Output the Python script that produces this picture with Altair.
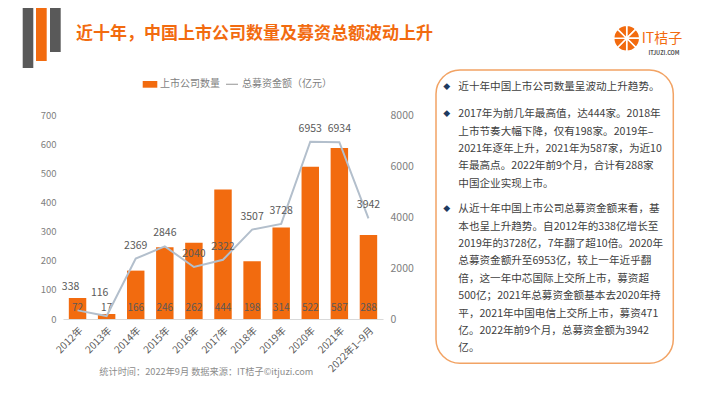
import altair as alt
import pandas as pd

# ---------------- data ----------------
years = ["2012年", "2013年", "2014年", "2015年", "2016年", "2017年",
         "2018年", "2019年", "2020年", "2021年", "2022年1–9月"]
companies = [72, 17, 166, 246, 262, 444, 198, 314, 522, 587, 288]
amounts = [338, 116, 2369, 2846, 2040, 2322, 3507, 3728, 6953, 6934, 3942]

left_ticks = [0, 100, 200, 300, 400, 500, 600, 700]
right_ticks = [0, 1000, 2000, 3000, 4000, 5000, 6000, 7000, 8000]

title_text = "近十年，中国上市公司数量及募资总额波动上升"
legend_bar = "上市公司数量"
legend_line = "总募资金额（亿元）"
footer_text = "统计时间：2022年9月  数据来源：IT桔子©itjuzi.com"
logo_text = "IT桔子"
logo_sub = "ITJUZI.COM"
logo_segments = [1, 1, 1, 1, 1, 1, 1, 1]

para1 = ["近十年中国上市公司数量呈波动上升趋势。"]
para2 = ["2017年为前几年最高值，达444家。2018年",
         "上市节奏大幅下降，仅有198家。2019年–",
         "2021年逐年上升，2021年为587家，为近10",
         "年最高点。2022年前9个月，合计有288家",
         "中国企业实现上市。"]
para3 = ["从近十年中国上市公司总募资金额来看，基",
         "本也呈上升趋势。自2012年的338亿增长至",
         "2019年的3728亿，7年翻了超10倍。2020年",
         "总募资金额升至6953亿，较上一年近乎翻",
         "倍，这一年中芯国际上交所上市，募资超",
         "500亿；2021年总募资金额基本去2020年持",
         "平，2021年中国电信上交所上市，募资471",
         "亿。2022年前9个月，总募资金额为3942",
         "亿。"]

df = pd.DataFrame({"year": years, "companies": companies, "amount": amounts})
one = pd.DataFrame({"k": [0]})

FONT = "Noto Sans CJK SC"
ORANGE = "#f26b0f"
LINE = "#b3bfcc"
GREY = "#595959"

x_enc = alt.X("year:N", sort=years,
              scale=alt.Scale(paddingInner=0.4, paddingOuter=0.2),
              axis=alt.Axis(title=None, labelAngle=-45, labelFontSize=10,
                            labelColor=GREY, labelFont=FONT, labelOverlap=False,
                            domainColor="#d9d9d9", ticks=False, labelPadding=6))

left_scale = alt.Scale(domain=[0, 700], nice=False)
left_axis = alt.Axis(title=None, values=left_ticks, domain=False, ticks=False,
                     grid=False, labelColor="#808080", labelFontSize=9.5,
                     labelFont=FONT, labelPadding=7, format="d",
                     labelOverlap=False)

y_left = alt.Y("companies:Q", scale=left_scale, axis=left_axis)

y_right = alt.Y("amount:Q",
                scale=alt.Scale(domain=[0, 8000], nice=False),
                axis=alt.Axis(title=None, orient="right", values=right_ticks, domain=False,
                              ticks=False, grid=False, labelColor="#808080",
                              labelFontSize=10.5, labelFont=FONT, labelPadding=7,
                              format="d", labelOverlap=False))

bars = alt.Chart(df).mark_bar(color=ORANGE).encode(x=x_enc, y=y_left)
bar_labels = alt.Chart(df).mark_text(fontSize=10, font=FONT, color=GREY, dy=-11,
                                     baseline="middle").encode(
    x=alt.X("year:N", sort=years),
    y=alt.YDatum(0, type="quantitative", scale=left_scale, axis=left_axis),
    text="companies:Q")
left = alt.layer(bars, bar_labels)

line = alt.Chart(df).mark_line(color=LINE, strokeWidth=2).encode(
    x=alt.X("year:N", sort=years), y=y_right)
line_labels_hi = alt.Chart(df).transform_filter("datum.amount >= 1000").mark_text(
    fontSize=10.5, font=FONT, color=GREY, dy=-13, baseline="middle").encode(
    x=alt.X("year:N", sort=years), y=alt.Y("amount:Q"), text="amount:Q")
line_labels_lo = alt.Chart(df).transform_filter("datum.amount < 1000").mark_text(
    fontSize=10.5, font=FONT, color=GREY, dy=-23, dx=-7, baseline="middle").encode(
    x=alt.X("year:N", sort=years), y=alt.Y("amount:Q"), text="amount:Q")
right = alt.layer(line, line_labels_hi, line_labels_lo)


def rect(x1, x2, y1, y2, **kw):
    return alt.Chart(one).mark_rect(**kw).encode(
        x=alt.value(x1), x2=alt.value(x2), y=alt.value(y1), y2=alt.value(y2))


def label(txt, xv, yv, **kw):
    base = dict(font=FONT, align="left", baseline="middle")
    base.update(kw)
    return alt.Chart(one).mark_text(text=txt, **base).encode(
        x=alt.value(xv), y=alt.value(yv))


annots = [
    # decorative bars
    rect(-40.3, -29.7, -110, -47, color="#595959"),
    rect(-27, -16.3, -110, -54, color=ORANGE),
    rect(-13, -2.3, -110, -63, color="#595959"),
    # title
    label(title_text, 13, -81.3, fontSize=17, fontWeight="bold", color=ORANGE),
    # legend
    rect(79.7, 94.3, -34, -27.3, color=ORANGE),
    label(legend_bar, 97, -30.7, fontSize=10, color="#7f7f7f"),
    alt.Chart(one).mark_rule(color="#a6a6a6", strokeWidth=1.2).encode(
        x=alt.value(163), x2=alt.value(175), y=alt.value(-30.7)),
    label(legend_line, 179, -30.7, fontSize=10, color="#7f7f7f"),
    # footer
    label(footer_text, 36.3, 256.7, fontSize=9.2, color="#8c8c8c"),
    # text box
    rect(373, 610.3, -45, 248.3, fill="white", stroke="#f2a364", strokeWidth=1.5,
         cornerRadius=24),
    label("◆", 383.7, -28.3, fontSize=7, color="#1f3a5f", align="center"),
    label("◆", 383.7, -1, fontSize=7, color="#1f3a5f", align="center"),
    label("◆", 383.7, 94, fontSize=7, color="#1f3a5f", align="center"),
    label(para1, 395.3, -25.1, fontSize=10.6, color="#404040", baseline="alphabetic",
          lineHeight=17.4),
    label(para2, 395.3, 2.2, fontSize=10.6, color="#404040", baseline="alphabetic",
          lineHeight=17.4),
    label(para3, 395.3, 97.2, fontSize=10.6, color="#404040", baseline="alphabetic",
          lineHeight=17.4),
    # logo
    alt.Chart(pd.DataFrame({"v": logo_segments})).mark_arc(
        outerRadius=13, color=ORANGE, stroke="white", strokeWidth=1.5).encode(
        theta=alt.Theta("v:Q", stack=True), x=alt.value(563.7), y=alt.value(-76.7)),
    label(logo_text, 578.7, -76.2, fontSize=14, color=ORANGE),
    label(logo_sub, 601, -62.3, fontSize=5.5, color="#555555", align="center",
          fontWeight="bold"),
]

chart = alt.layer(left, right, *annots).resolve_scale(y="independent").properties(
    width=320, height=204,
    padding={"left": 55, "top": 107, "right": 319, "bottom": 72},
    autosize=alt.AutoSizeParams(type="none"),
    background="white",
).configure_view(stroke=None)

chart.save("out.html", embed_options={"renderer": "svg", "actions": False})
